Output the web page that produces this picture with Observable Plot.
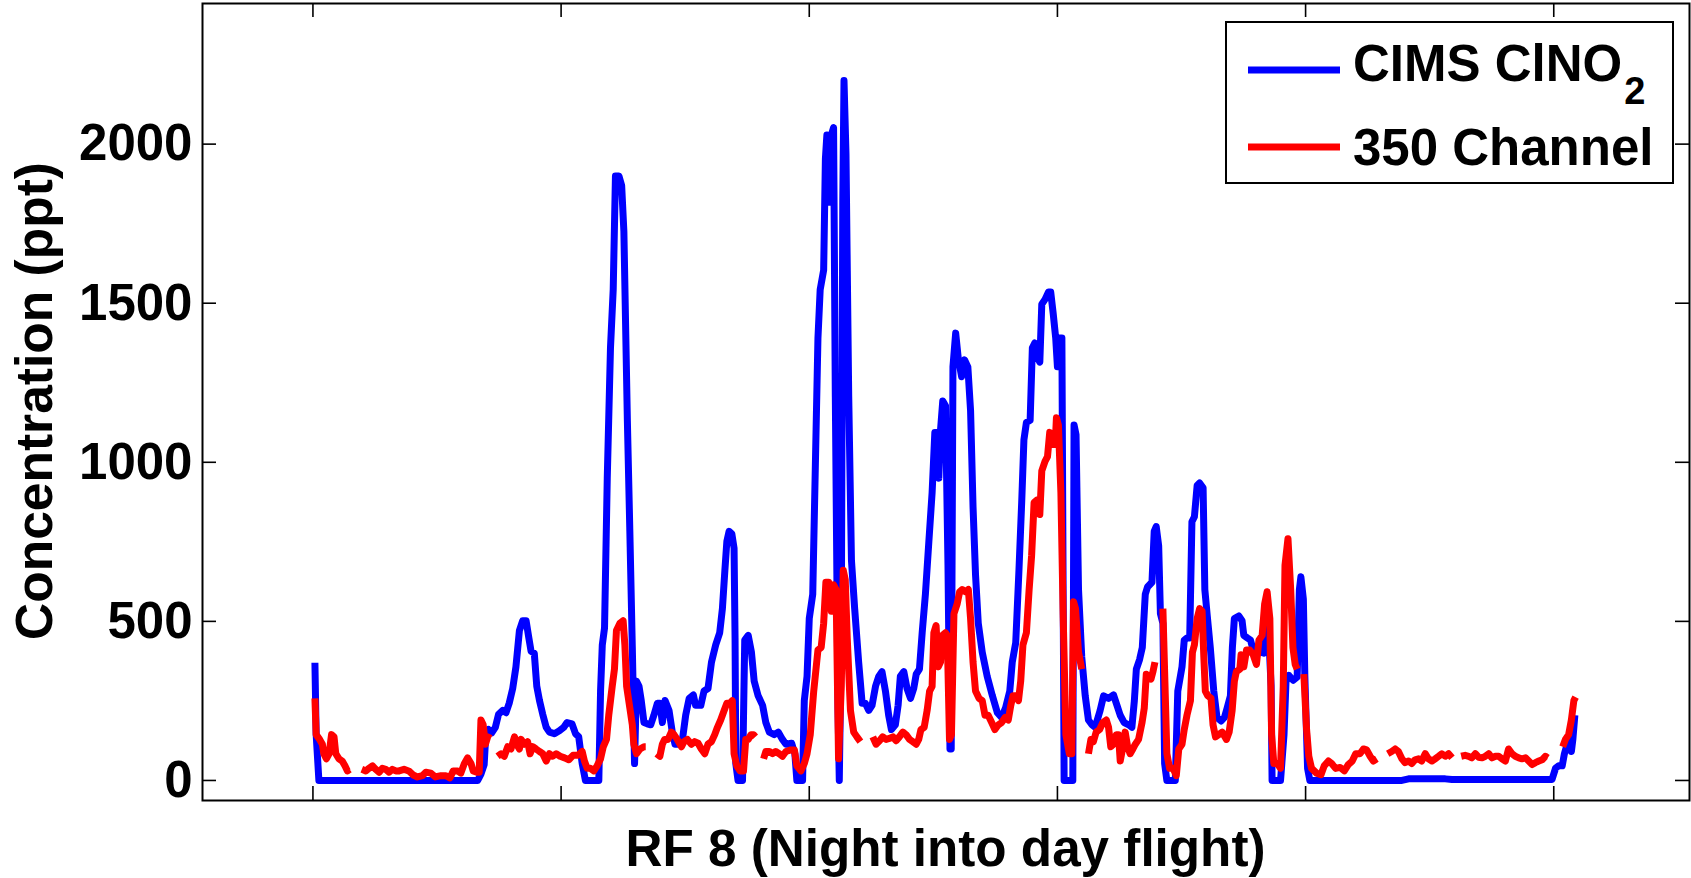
<!DOCTYPE html>
<html><head><meta charset="utf-8">
<script src="https://cdn.jsdelivr.net/npm/d3@7"></script>
<script src="https://cdn.jsdelivr.net/npm/@observablehq/plot@0.6"></script>
<style>
html,body{margin:0;padding:0;background:#fff;}
#chart{position:relative;width:1691px;height:878px;}
</style></head><body><div id="chart"></div>
<script>
// ---- data (x in tick units, y in ppt) ----
const cimsTime = [0.008,0.013,0.024,0.664,0.677,0.690,0.697,0.708,0.721,0.735,0.748,0.765,0.778,0.791,0.805,0.818,0.832,0.845,0.859,0.870,0.879,0.892,0.902,0.913,0.926,0.940,0.953,0.973,0.993,1.011,1.024,1.044,1.058,1.071,1.085,1.098,1.152,1.159,1.166,1.175,1.186,1.199,1.210,1.219,1.233,1.244,1.253,1.267,1.277,1.287,1.296,1.304,1.314,1.323,1.334,1.347,1.361,1.374,1.388,1.398,1.408,1.419,1.435,1.448,1.459,1.479,1.489,1.502,1.516,1.533,1.542,1.563,1.576,1.592,1.606,1.623,1.639,1.650,1.660,1.668,1.677,1.688,1.697,1.701,1.704,1.713,1.731,1.740,1.754,1.767,1.778,1.794,1.812,1.825,1.839,1.859,1.875,1.892,1.906,1.929,1.942,1.950,1.973,1.980,1.991,2.000,2.014,2.035,2.044,2.058,2.065,2.071,2.081,2.089,2.098,2.105,2.116,2.121,2.129,2.135,2.140,2.148,2.159,2.170,2.183,2.199,2.213,2.226,2.240,2.253,2.267,2.280,2.293,2.307,2.320,2.331,2.347,2.358,2.367,2.381,2.394,2.408,2.421,2.431,2.444,2.455,2.468,2.482,2.495,2.506,2.516,2.522,2.529,2.538,2.549,2.559,2.567,2.572,2.579,2.590,2.600,2.614,2.626,2.639,2.650,2.660,2.670,2.681,2.697,2.717,2.738,2.758,2.775,2.791,2.808,2.818,2.832,2.845,2.856,2.865,2.875,2.890,2.899,2.909,2.919,2.929,2.937,2.950,2.964,2.973,2.983,2.993,3.000,3.007,3.018,3.023,3.027,3.062,3.067,3.075,3.085,3.098,3.112,3.125,3.139,3.152,3.172,3.186,3.206,3.226,3.240,3.253,3.269,3.287,3.300,3.310,3.318,3.331,3.342,3.354,3.363,3.381,3.390,3.398,3.408,3.415,3.425,3.432,3.441,3.475,3.485,3.502,3.511,3.522,3.533,3.542,3.552,3.563,3.573,3.587,3.594,3.603,3.616,3.630,3.643,3.660,3.673,3.684,3.697,3.705,3.713,3.731,3.744,3.751,3.765,3.778,3.789,3.805,3.818,3.832,3.839,3.845,3.852,3.861,3.865,3.899,3.913,3.921,3.933,3.950,3.966,3.975,3.981,3.991,3.997,4.008,4.017,4.388,4.415,4.563,4.590,4.993,5.007,5.020,5.034,5.043,5.054,5.063,5.071,5.077,5.085];
const cimsConc = [370,144,0,0,20,50,150,160,150,167,208,220,213,243,289,357,471,502,502,448,406,400,296,251,208,167,152,147,156,167,182,178,147,137,53,0,0,281,426,479,950,1360,1543,1900,1900,1870,1725,1132,783,418,53,312,296,251,182,178,175,205,243,243,182,251,220,152,114,114,129,205,258,269,236,236,281,289,372,426,464,540,661,752,783,775,730,448,53,0,0,441,456,403,312,266,236,182,152,144,152,129,114,117,84,0,0,251,327,509,585,1390,1543,1604,1953,2029,1817,2029,2052,1207,220,0,448,1817,2200,1969,1207,692,540,372,243,243,220,236,296,327,342,281,205,160,175,236,327,342,289,258,289,334,350,464,585,752,904,1094,1094,950,1102,1193,1178,676,99,99,1300,1406,1330,1269,1322,1300,1163,859,646,494,403,327,266,213,198,228,281,372,433,661,874,1071,1125,1132,1360,1375,1330,1315,1497,1512,1535,1535,1467,1391,1300,1391,1391,600,0,0,1117,1087,600,388,266,190,175,167,220,266,258,269,236,205,182,175,167,251,350,380,418,585,608,623,783,798,737,524,494,53,0,0,281,357,441,448,448,813,829,927,935,920,600,524,418,281,198,187,198,228,266,418,509,517,502,456,448,441,410,410,403,400,479,509,448,296,0,0,144,310,330,315,325,600,640,570,327,38,0,0,5,5,3,3,38,46,46,84,114,129,91,129,205];

const ch350Time = [0.008,0.013,0.027,0.038,0.044,0.054,0.065,0.075,0.085,0.092,0.105,0.118,0.129,0.139,0.148,0.170,0.197,0.213,0.226,0.240,0.253,0.267,0.280,0.293,0.307,0.320,0.334,0.347,0.367,0.388,0.404,0.421,0.441,0.455,0.475,0.493,0.516,0.536,0.552,0.565,0.583,0.596,0.610,0.623,0.637,0.646,0.660,0.670,0.677,0.686,0.695,0.704,0.717,0.730,0.744,0.758,0.771,0.785,0.798,0.812,0.821,0.832,0.839,0.852,0.865,0.875,0.886,0.899,0.913,0.926,0.940,0.953,0.966,0.980,0.996,1.014,1.031,1.048,1.067,1.085,1.094,1.105,1.118,1.132,1.145,1.159,1.170,1.183,1.192,1.206,1.215,1.223,1.237,1.250,1.257,1.264,1.277,1.287,1.293,1.304,1.318,1.334,1.341,1.362,1.385,1.398,1.408,1.417,1.431,1.444,1.455,1.468,1.485,1.495,1.509,1.525,1.538,1.552,1.565,1.579,1.592,1.606,1.619,1.630,1.643,1.657,1.668,1.681,1.690,1.697,1.708,1.721,1.735,1.744,1.754,1.765,1.775,1.783,1.800,1.816,1.825,1.839,1.852,1.865,1.879,1.892,1.906,1.926,1.940,1.950,1.966,1.980,1.991,2.004,2.018,2.035,2.048,2.058,2.067,2.078,2.089,2.098,2.108,2.118,2.129,2.137,2.145,2.153,2.166,2.179,2.192,2.206,2.230,2.256,2.269,2.283,2.296,2.310,2.323,2.337,2.350,2.363,2.377,2.390,2.404,2.417,2.431,2.441,2.450,2.463,2.475,2.485,2.495,2.502,2.511,2.520,2.529,2.536,2.549,2.556,2.565,2.573,2.583,2.596,2.606,2.616,2.630,2.641,2.650,2.660,2.670,2.684,2.697,2.708,2.721,2.735,2.748,2.762,2.775,2.789,2.802,2.812,2.821,2.832,2.843,2.852,2.861,2.875,2.886,2.896,2.906,2.919,2.929,2.937,2.950,2.960,2.969,2.980,2.991,2.996,3.004,3.014,3.023,3.034,3.048,3.058,3.065,3.073,3.085,3.098,3.111,3.125,3.135,3.145,3.156,3.170,3.183,3.197,3.206,3.215,3.226,3.237,3.246,3.253,3.264,3.273,3.283,3.293,3.304,3.314,3.327,3.341,3.350,3.358,3.367,3.377,3.385,3.393,3.410,3.425,3.433,3.441,3.452,3.466,3.479,3.489,3.502,3.511,3.522,3.536,3.544,3.552,3.563,3.573,3.583,3.590,3.596,3.606,3.619,3.627,3.637,3.650,3.664,3.681,3.692,3.704,3.713,3.721,3.735,3.740,3.751,3.762,3.775,3.789,3.802,3.812,3.825,3.835,3.845,3.856,3.863,3.872,3.886,3.899,3.910,3.917,3.929,3.940,3.949,3.958,3.966,3.980,3.993,4.004,4.013,4.024,4.044,4.062,4.075,4.092,4.105,4.121,4.139,4.156,4.172,4.188,4.202,4.219,4.233,4.246,4.260,4.273,4.287,4.310,4.331,4.347,4.361,4.374,4.388,4.401,4.415,4.428,4.441,4.455,4.468,4.482,4.495,4.509,4.522,4.536,4.549,4.563,4.576,4.590,4.608,4.627,4.643,4.657,4.670,4.684,4.697,4.711,4.724,4.738,4.751,4.765,4.778,4.791,4.805,4.818,4.832,4.845,4.859,4.872,4.886,4.899,4.913,4.926,4.940,4.953,4.966,4.976,5.005,5.036,5.047,5.060,5.071,5.081,5.088];
const ch350Conc = [258,144,129,114,84,68,84,144,137,84,68,61,46,30,35,null,35,30,38,46,35,26,38,35,26,35,30,30,35,29,17,11,15,26,23,11,15,15,8,30,30,23,53,71,53,30,26,26,190,175,114,137,132,null,76,84,76,106,99,137,114,99,129,114,122,84,106,99,91,84,61,84,76,84,76,71,65,79,79,91,61,38,38,30,46,68,106,129,205,296,350,471,494,502,426,296,228,175,114,84,99,106,106,null,84,76,114,129,129,152,144,129,106,122,129,114,122,117,99,84,114,122,144,167,190,220,243,243,251,84,46,30,30,129,129,144,144,137,null,68,91,91,84,91,84,76,91,96,96,46,30,53,84,144,281,410,418,494,623,623,532,615,600,68,296,661,631,448,220,152,137,122,null,137,114,125,137,129,132,137,125,137,152,144,129,122,114,129,160,167,220,281,296,464,487,357,372,456,464,456,129,144,524,555,593,600,593,600,509,372,281,258,251,205,205,182,160,175,182,198,190,236,266,266,251,312,426,464,600,707,874,882,836,973,1003,1018,1094,1056,1056,1140,1117,904,524,144,84,84,562,540,403,350,null,84,129,122,152,160,182,190,167,106,114,144,144,61,106,152,106,84,99,114,129,182,228,334,327,319,342,372,null,540,312,84,38,38,15,99,114,160,205,251,403,426,509,540,532,388,281,266,258,175,137,144,152,129,152,220,312,342,350,395,357,410,410,395,365,441,456,555,593,509,144,53,53,38,296,676,760,600,418,365,350,null,334,160,76,38,23,18,46,61,53,38,41,30,50,61,84,84,99,96,76,61,68,null,84,91,99,91,68,56,61,53,65,68,61,84,68,61,68,76,84,76,84,71,null,76,79,76,71,84,73,71,76,84,71,76,76,68,61,99,84,76,71,68,71,61,50,56,61,65,76,71,null,106,129,144,190,251,262];

const seriesNames = ["CIMS ClNO", "350 Channel"];
const seriesColors = ["#0000ff", "#ff0000"];
const xTicks = [0, 1, 2, 3, 4, 5];
const yTicks = [0, 500, 1000, 1500, 2000];
const xLabel = "RF 8 (Night into day flight)";
const yLabel = "Concentration (ppt)";

const cims = cimsTime.map((t, i) => ({t, v: cimsConc[i]}));
const ch350 = ch350Time.map((t, i) => ({t, v: ch350Conc[i]}));

// ---- layout ----
const W = 1691, H = 878, mL = 202, mR = 2, mT = 3, mB = 78;
const plotW = W - mL - mR, plotH = H - mT - mB, tickLen = 14;
const LW = 7;
const FONT = "'Liberation Sans', Arial, Helvetica, sans-serif";

const chart = Plot.plot({
  width: W, height: H,
  marginLeft: mL, marginRight: mR, marginTop: mT, marginBottom: mB,
  style: {fontFamily: FONT, fontWeight: "bold", background: "#fff", color: "#000"},
  x: {domain: [-0.445, 5.547], axis: null},
  y: {domain: [-63, 2442], axis: null},
  marks: [
    Plot.line(cims, {x: "t", y: "v", stroke: seriesColors[0], strokeWidth: LW, strokeLinejoin: "round", strokeLinecap: "butt"}),
    Plot.line(ch350, {x: "t", y: "v", stroke: seriesColors[1], strokeWidth: LW, strokeLinejoin: "round", strokeLinecap: "butt"}),
    Plot.tickY(yTicks, {y: d => d, insetRight: plotW - tickLen, stroke: "#000", strokeWidth: 1.6}),
    Plot.tickY(yTicks, {y: d => d, insetLeft: plotW - tickLen, stroke: "#000", strokeWidth: 1.6}),
    Plot.tickX(xTicks, {x: d => d, insetTop: plotH - tickLen, stroke: "#000", strokeWidth: 1.6}),
    Plot.tickX(xTicks, {x: d => d, insetBottom: plotH - tickLen, stroke: "#000", strokeWidth: 1.6}),
    Plot.axisY(yTicks, {anchor: "left", tickSize: 0, tickPadding: 10, fontSize: 51, fontWeight: "bold", label: null, tickFormat: d => String(d)}),
    Plot.frame({stroke: "#000", strokeWidth: 2})
  ]
});
document.getElementById("chart").appendChild(chart);

// ---- axis titles and legend ----
const svg = d3.select(chart);
svg.append("text")
  .attr("transform", "translate(52,401) rotate(-90)")
  .attr("text-anchor", "middle").attr("font-family", FONT).attr("font-weight", "bold")
  .attr("font-size", 52).attr("fill", "#000")
  .attr("textLength", 478).attr("lengthAdjust", "spacingAndGlyphs")
  .text(yLabel);
svg.append("text")
  .attr("x", 945.5).attr("y", 866)
  .attr("text-anchor", "middle").attr("font-family", FONT).attr("font-weight", "bold")
  .attr("font-size", 51).attr("fill", "#000")
  .attr("textLength", 640).attr("lengthAdjust", "spacingAndGlyphs")
  .text(xLabel);

const lg = svg.append("g").attr("text-anchor", "start");
lg.append("rect").attr("x", 1226).attr("y", 22).attr("width", 447).attr("height", 161)
  .attr("fill", "#fff").attr("stroke", "#000").attr("stroke-width", 2);
const rows = [{y: 70, base: 81}, {y: 147, base: 165}];
seriesNames.forEach((name, i) => {
  lg.append("line").attr("x1", 1248).attr("x2", 1340).attr("y1", rows[i].y).attr("y2", rows[i].y)
    .attr("stroke", seriesColors[i]).attr("stroke-width", LW);
  const t = lg.append("text").attr("x", 1353).attr("y", rows[i].base)
    .attr("text-anchor", "start")
    .attr("font-family", FONT).attr("font-weight", "bold").attr("font-size", 51).attr("fill", "#000")
    .text(name);
  if (i === 0) {
    t.append("tspan").attr("dy", 23).attr("dx", 2).attr("font-size", 38).text("2");
  }
});
</script>
</body></html>
